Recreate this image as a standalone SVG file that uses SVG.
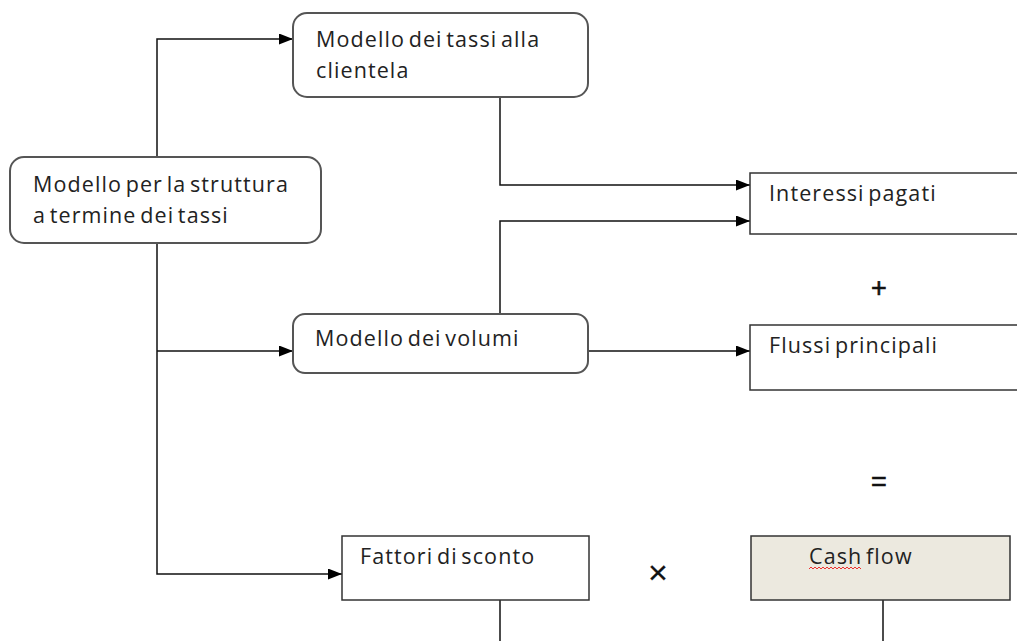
<svg xmlns="http://www.w3.org/2000/svg" width="1017" height="641" viewBox="0 0 1017 641">
<defs>
<marker id="arr" viewBox="0 0 14 11" refX="14" refY="5.5" markerWidth="14" markerHeight="11" markerUnits="userSpaceOnUse" orient="auto">
<path d="M0,0 L14,5.5 L0,11 Z" fill="#000"/>
</marker>
<style>
.rr{fill:#fff;stroke:#555;stroke-width:2}
.bx{fill:#fff;stroke:#333;stroke-width:1.5}
.t{font-family:"Open Sans","Liberation Sans",sans-serif;font-size:21.5px;fill:#222;letter-spacing:1.1px;word-spacing:-3px}
.op{font-family:"Liberation Sans",sans-serif;font-size:27px;fill:#111;text-anchor:middle;stroke:#111;stroke-width:0.6}
.ln{fill:none;stroke:#111;stroke-width:1.5}
</style>
</defs>
<rect width="1017" height="641" fill="#fff"/>
<g id="connectors">
<path class="ln" d="M157,157 V39 H293" marker-end="url(#arr)"/>
<path class="ln" d="M157,243 V574 H342" marker-end="url(#arr)"/>
<path class="ln" d="M157,351 H293" marker-end="url(#arr)"/>
<path class="ln" d="M500,97 V185 H750" marker-end="url(#arr)"/>
<path class="ln" d="M500,314 V221 H750" marker-end="url(#arr)"/>
<path class="ln" d="M588,351 H750" marker-end="url(#arr)"/>
<path class="ln" d="M500,600 V641"/>
<path class="ln" d="M883,600 V641"/>
</g>
<g id="tassi-clientela">
<rect class="rr" x="293" y="13" width="295" height="84" rx="14"/>
<text class="t" x="316" y="47">Modello dei tassi alla</text>
<text class="t" x="316" y="78">clientela</text>
</g>
<g id="struttura">
<rect class="rr" x="10" y="157" width="311" height="86" rx="14"/>
<text class="t" x="33" y="192">Modello per la struttura</text>
<text class="t" x="33" y="223">a termine dei tassi</text>
</g>
<g id="volumi">
<rect class="rr" x="293" y="314" width="295" height="59" rx="12"/>
<text class="t" x="315" y="346">Modello dei volumi</text>
</g>
<g id="interessi">
<rect class="bx" x="750" y="173" width="280" height="61"/>
<text class="t" x="769" y="201">Interessi pagati</text>
</g>
<g id="flussi">
<rect class="bx" x="750" y="325" width="280" height="65"/>
<text class="t" x="769" y="353">Flussi principali</text>
</g>
<g id="fattori">
<rect class="bx" x="342" y="536" width="247" height="64"/>
<text class="t" x="360" y="564">Fattori di sconto</text>
</g>
<g id="cashflow">
<rect class="bx" x="751" y="536" width="259" height="64" style="fill:#ECE9DF"/>
<text class="t" x="809" y="564">Cash flow</text>
<path d="M809,569 l2,-2 l2,2 l2,-2 l2,2 l2,-2 l2,2 l2,-2 l2,2 l2,-2 l2,2 l2,-2 l2,2 l2,-2 l2,2 l2,-2 l2,2 l2,-2 l2,2 l2,-2 l2,2 l2,-2 l2,2 l2,-2 l2,2 l2,-2 l2,2" fill="none" stroke="#e00" stroke-width="0.8"/>
</g>
<g id="operators">
<text class="op" x="879" y="297">+</text>
<text class="op" x="879" y="491">=</text>
<text class="op" x="658" y="584" style="font-size:34px;stroke-width:0.2">×</text>
</g>
</svg>
